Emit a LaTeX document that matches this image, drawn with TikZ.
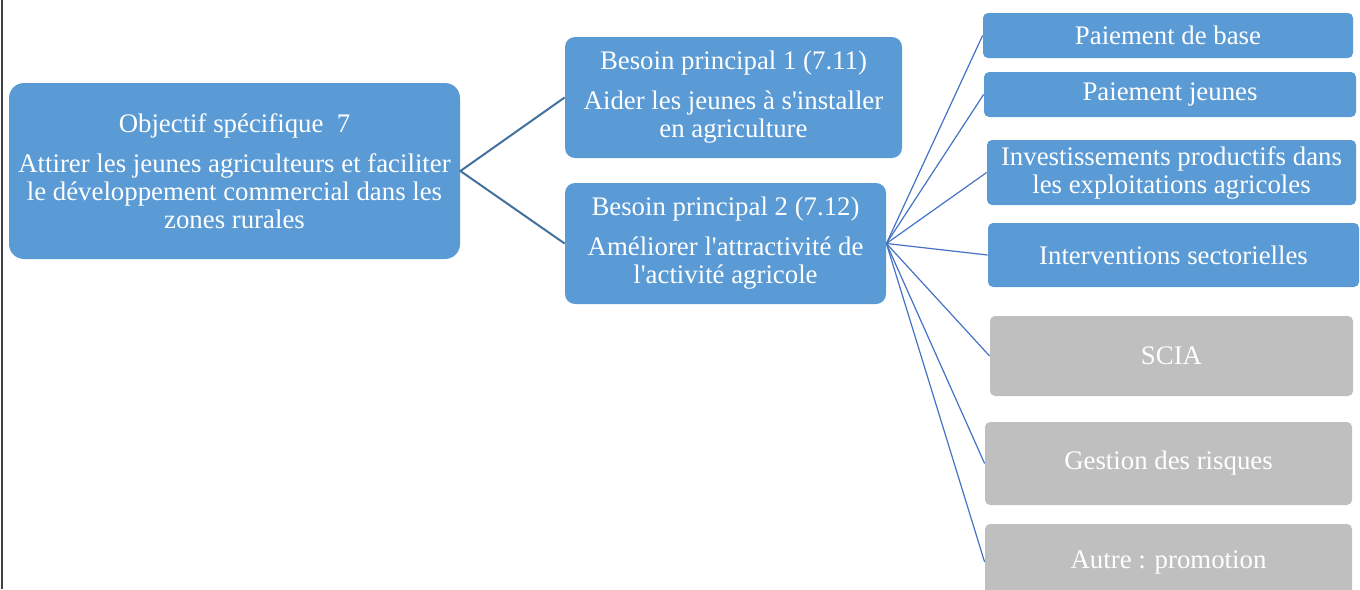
\documentclass[tikz,border=0pt]{standalone}
\usepackage{fontspec}
\setmainfont{Liberation Serif}
\definecolor{boxblue}{HTML}{5B9BD5}
\definecolor{boxgrey}{HTML}{BFBFBF}
\definecolor{linkdark}{HTML}{41719C}
\definecolor{linkblue}{HTML}{4472C4}

\begin{document}
\begin{tikzpicture}[x=0.5pt, y=-0.5pt,
	box/.style={fill=boxblue, text=white, align=center, inner sep=0pt,
		font=\fontsize{13.4}{14}\selectfont},
	needbox/.style={box, rounded corners=5pt, minimum height=60.5pt},
	measure/.style={box, rounded corners=2.5pt},
	offmeasure/.style={measure, fill=boxgrey},
	trunk/.style={draw=linkdark, line width=1pt},
	twig/.style={draw=linkblue, line width=0.6pt}]

	\useasboundingbox (0,0) rectangle (1360,589);
	\draw[color=black!75, line width=1pt] (2,0) -- (2,589);

	% objective and needs
	\node[box, rounded corners=7.5pt, minimum width=225.5pt, minimum height=88pt] (obj) at (234.5,171)
		{Objectif spécifique\ \ 7\\[6pt]Attirer les jeunes agriculteurs et faciliter\\le développement commercial dans les\\zones rurales};
	\node[needbox, minimum width=168.5pt] (need1) at (733.5,97.5)
		{Besoin principal 1 (7.11)\\[6pt]Aider les jeunes à s\textquotesingle installer\\en agriculture};
	\node[needbox, minimum width=160.5pt] (need2) at (725.5,243.5)
		{Besoin principal 2 (7.12)\\[6pt]Améliorer l\textquotesingle attractivité de\\l\textquotesingle activité agricole};

	% measures
	\node[measure, minimum width=185pt, minimum height=22.5pt] (basepay) at (1168,35.5) {Paiement de base};
	\node[measure, minimum width=186pt, minimum height=22.5pt] (youngpay) at (1170,94.5) {Paiement jeunes};
	\node[measure, minimum width=184.5pt, minimum height=32.5pt] (invest) at (1171.5,172.5)
		{Investissements productifs dans\\les exploitations agricoles};
	\node[measure, minimum width=185.5pt, minimum height=32pt] (sector) at (1173.5,255) {Interventions sectorielles};
	\node[offmeasure, minimum width=181.5pt, minimum height=40pt] (scia) at (1171.5,356) {SCIA};
	\node[offmeasure, minimum width=183.5pt, minimum height=41.5pt] (risk) at (1168.5,463.5) {Gestion des risques};
	\node[offmeasure, minimum width=183.5pt, minimum height=38pt] (other) at (1168.5,562) {Autre : promotion};

	\draw[trunk] (need1.west) -- (obj.east) -- (need2.west);
	\foreach \m in {basepay, youngpay, invest, sector, scia, risk, other}
		\draw[twig] (need2.east) -- (\m.west);

\end{tikzpicture}
\end{document}
